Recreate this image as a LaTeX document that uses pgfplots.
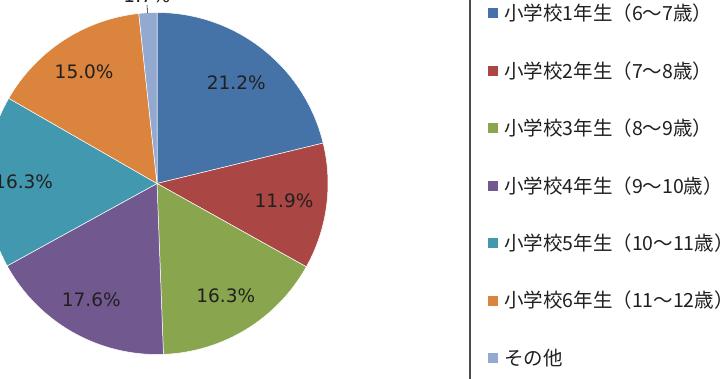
\documentclass[border=0pt]{standalone}
\usepackage{pgfplots}
\pgfplotsset{compat=1.18}
\usepackage{fontspec}
\setmainfont{DejaVu Sans}
\newfontfamily\jp{Noto Sans CJK JP}

\definecolor{c1}{HTML}{4572A7}
\definecolor{c2}{HTML}{AA4643}
\definecolor{c3}{HTML}{89A54E}
\definecolor{c4}{HTML}{71588F}
\definecolor{c5}{HTML}{4198AF}
\definecolor{c6}{HTML}{DB843D}
\definecolor{c7}{HTML}{93A9CF}
\definecolor{txt}{HTML}{202020}

\begin{document}
\begin{tikzpicture}
\path[use as bounding box, clip] (0,0) rectangle (720pt,378pt);
\fill[white] (0,0) rectangle (720pt,378pt);

\begin{axis}[
  at={(157pt,194.5pt)}, anchor=origin,
  x=171pt, y=171pt,
  xmin=-1, xmax=1, ymin=-1, ymax=1,
  hide axis, clip=false,
]
\pgfplotsextra{
  % share (%) / colour / label radius, clockwise from 12 o'clock
  \foreach \v/\c/\r [remember=\next as \cum (initially 0)] in
     {21.2/c1/0.75, 11.9/c2/0.75, 16.3/c3/0.77, 17.6/c4/0.78,
      16.3/c5/0.78, 15.0/c6/0.78, 1.7/c7/1.097} {
    \pgfmathsetmacro\next{\cum+\v}
    \pgfmathsetmacro\a{90-3.6*\cum}
    \pgfmathsetmacro\b{90-3.6*\next}
    \pgfmathsetmacro\m{(\a+\b)/2}
    \fill[\c, draw=white, line width=0.5pt]
      (axis cs:0,0) -- (axis cs:{cos(\a)},{sin(\a)})
      arc[start angle=\a, end angle=\b, radius=171pt] -- cycle;
    \node[text=txt, font=\fontsize{18.5}{21}\selectfont]
      at (axis cs:{\r*cos(\m)},{\r*sin(\m)}) {\v\%};
  }
  % leader line for the smallest share
  \draw[txt, line width=0.6pt] (axis cs:{cos(93.2)},{sin(93.2)}) -- (axis cs:{1.045*cos(93.2)},{1.045*sin(93.2)});
}
\end{axis}

% legend frame
\draw[black!70, line width=1.5pt] (470pt,-5pt) rectangle (740pt,385pt);

% legend entries
\foreach \c/\t [count=\i from 0] in {
  c1/{小学校1年生（6～7歳）},
  c2/{小学校2年生（7～8歳）},
  c3/{小学校3年生（8～9歳）},
  c4/{小学校4年生（9～10歳）},
  c5/{小学校5年生（10～11歳）},
  c6/{小学校6年生（11～12歳）},
  c7/{その他}} {
  \pgfmathsetmacro\yy{378-(13.5+57.4*\i)}
  \fill[\c] (488pt,\yy pt-5pt) rectangle (498pt,\yy pt+5pt);
  \node[anchor=west, inner sep=0pt, text=txt, font=\jp\fontsize{19.5}{22}\selectfont]
    at (504pt,\yy pt) {\t};
}
\end{tikzpicture}
\end{document}
